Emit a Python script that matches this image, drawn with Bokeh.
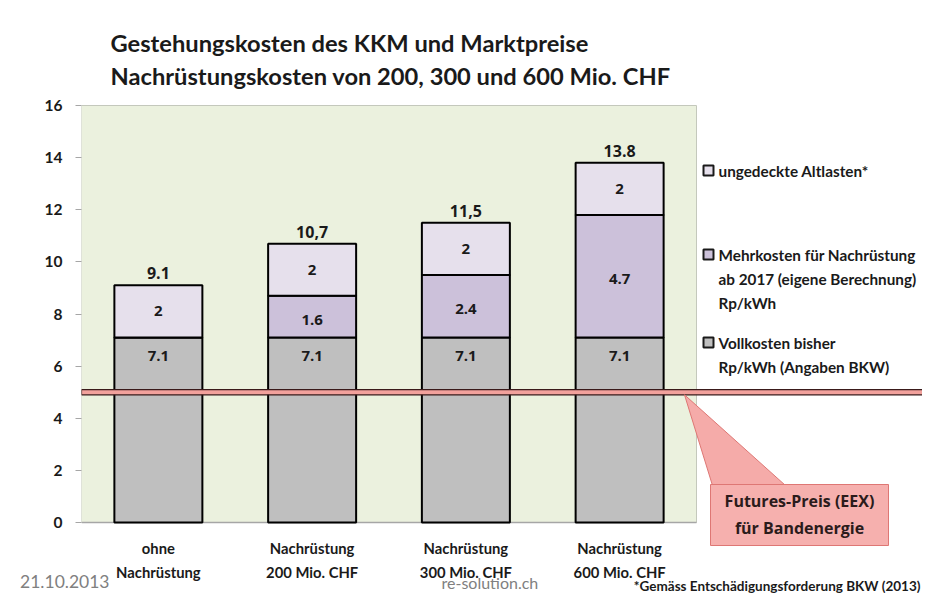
from bokeh.plotting import figure
from bokeh.models import Range1d, FixedTicker, Label, ColumnDataSource
from bokeh.core.properties import value
from bokeh.embed import file_html
from bokeh.resources import INLINE

# ---------------- data ----------------
categories = ["ohne\nNachrüstung", "Nachrüstung\n200 Mio. CHF",
              "Nachrüstung\n300 Mio. CHF", "Nachrüstung\n600 Mio. CHF"]
vollkosten = [7.1, 7.1, 7.1, 7.1]
mehrkosten = [0.0, 1.6, 2.4, 4.7]
altlasten = [2.0, 2.0, 2.0, 2.0]
total_labels = ["9.1", "10,7", "11,5", "13.8"]
futures_price = 5.0
y_ticks = [0, 2, 4, 6, 8, 10, 12, 14, 16]
legend_items = [
    ["ungedeckte Altlasten*"],
    ["Mehrkosten für Nachrüstung", "ab 2017 (eigene Berechnung)", "Rp/kWh"],
    ["Vollkosten bisher", "Rp/kWh (Angaben BKW)"],
]
title_lines = ["Gestehungskosten des KKM und Marktpreise",
               "Nachrüstungskosten von 200, 300 und 600 Mio. CHF"]
callout_lines = ["Futures-Preis (EEX)", "für Bandenergie"]
date_text = "21.10.2013"
source_text = "re-solution.ch"
footnote = "*Gemäss Entschädigungsforderung BKW (2013)"

# ---------------- colours ----------------
C_VOLL = "#BFBFBF"
C_MEHR = "#CCC1DA"
C_ALT = "#E6E0EC"
C_BG = "#EBF1DE"

# ---------------- layout helpers ----------------
W, H = 922, 593
LEFT = 81            # frame left edge (px)
Y0_PX, Y16_PX = 522, 105
PXX = 153.75         # px per category unit
PXY = (Y0_PX - Y16_PX) / 16.0

def dx(px):
    return (px - LEFT) / PXX

def dy(py):
    return (Y0_PX - py) / PXY

p = figure(width=W, height=H, output_backend="svg", toolbar_location=None,
           x_range=Range1d(0, dx(W)), y_range=Range1d(dy(H), dy(0)),
           x_axis_location=None, min_border_left=LEFT, min_border_right=0,
           min_border_top=0, min_border_bottom=0)
p.outline_line_color = None
p.grid.visible = False
p.background_fill_color = "white"
p.border_fill_color = "white"

ya = p.yaxis[0]
ya.ticker = FixedTicker(ticks=y_ticks)
ya.axis_line_color = None
ya.major_tick_line_color = "#A6A6A6"
ya.major_tick_out = 6
ya.major_tick_in = 0
ya.minor_tick_line_color = None
ya.major_label_text_font = "Lato"
ya.major_label_text_font_style = "bold"
ya.major_label_text_font_size = "15.5px"
ya.major_label_text_color = "#1a1a1a"
ya.major_label_standoff = 13
# the date in the lower-left corner, carried by the axis label
ya.axis_label = date_text + "\n\u00a0"
ya.axis_label_orientation = "horizontal"
ya.axis_label_align = "start"
ya.axis_label_standoff = -68
ya.axis_label_text_font = "Lato"
ya.axis_label_text_font_style = "normal"
ya.axis_label_text_font_size = "17.5px"
ya.axis_label_text_line_height = 1.1
ya.axis_label_text_color = "#808080"

n = len(categories)
xs = [i + 0.5 for i in range(n)]

# plot area background
p.quad(left=[0], right=[n], bottom=[0], top=[16], fill_color=C_BG,
       line_color="#C4C8BC", line_width=1)
p.segment(x0=[0], x1=[n], y0=[0], y1=[0], line_color="#A6A6A6", line_width=1.5)

# stacked bars
b1 = vollkosten
b2 = [a + b for a, b in zip(b1, mehrkosten)]
b3 = [a + b for a, b in zip(b2, altlasten)]
bw = 88 / PXX
src = ColumnDataSource(dict(x=xs, b1=b1, b2=b2, b3=b3, z=[0] * n))
p.vbar(x="x", width=bw, bottom="z", top="b1", source=src, fill_color=C_VOLL,
       line_color="black", line_width=2)
p.vbar(x="x", width=bw, bottom="b1", top="b2", source=src, fill_color=C_MEHR,
       line_color="black", line_width=2)
p.vbar(x="x", width=bw, bottom="b2", top="b3", source=src, fill_color=C_ALT,
       line_color="black", line_width=2)

font_os = value("Open Sans")
font_lato = value("Lato")

# segment labels
p.text(x=xs, y=b1, text=[f"{v:g}" for v in vollkosten], text_align="center",
       text_baseline="middle", y_offset=19, text_font=font_os, text_font_style="bold",
       text_font_size="15px", text_color="#1a1a1a")
mk_x = [x for x, v in zip(xs, mehrkosten) if v > 0]
mk_y = [a + v / 2 for a, v in zip(b1, mehrkosten) if v > 0]
mk_t = [f"{v:g}" for v in mehrkosten if v > 0]
p.text(x=mk_x, y=mk_y, text=mk_t, text_align="center", text_baseline="middle", y_offset=3,
       text_font=font_os, text_font_style="bold", text_font_size="15px", text_color="#1a1a1a")
p.text(x=xs, y=[a + v / 2 for a, v in zip(b2, altlasten)], text=[f"{v:g}" for v in altlasten],
       text_align="center", text_baseline="middle", text_font=font_os,
       text_font_style="bold", text_font_size="15px", text_color="#1a1a1a")
p.text(x=xs, y=b3, text=total_labels, text_align="center", text_baseline="middle",
       y_offset=-12, text_font=font_os, text_font_style="bold", text_font_size="16px",
       text_color="#1a1a1a")

# footer source text (drawn below category labels)
p.add_layout(Label(x=dx(441), y=dy(582), text=source_text, text_align="left",
                   text_baseline="middle", text_font="Lato", text_font_size="16px",
                   text_color="#808080", level="glyph"))

# category labels (two lines)
line1 = [c.split("\n")[0] for c in categories]
line2 = [c.split("\n")[1] for c in categories]
p.text(x=xs, y=[dy(547)] * n, text=line1, text_align="center", text_baseline="middle",
       text_font=font_lato, text_font_style="bold", text_font_size="14.8px", text_color="#1a1a1a")
p.text(x=xs, y=[dy(571)] * n, text=line2, text_align="center", text_baseline="middle",
       text_font=font_lato, text_font_style="bold", text_font_size="14.8px", text_color="#1a1a1a")

# futures price band
band = 2.6 / PXY
p.quad(left=[0], right=[dx(W) + 1], bottom=[futures_price - band], top=[futures_price + band],
       fill_color="#F2A19C", line_color="#3a1a1a", line_width=1.2)

# callout pointer and box
p.patch(x=[dx(684), dx(712), dx(785)], y=[futures_price - band, dy(485), dy(485)],
        fill_color="#F5ABA9", line_color="#DE7774", line_width=1)
p.quad(left=[dx(710)], right=[dx(888)], top=[dy(484)], bottom=[dy(545)],
       fill_color="#F6B0AE", line_color="#DE7774", line_width=1)
p.text(x=[dx(799)] * 2, y=[dy(500), dy(527)], text=callout_lines, text_align="center",
       text_baseline="middle", text_font=font_os, text_font_style="bold",
       text_font_size="16px", text_color="#2b1b1b")

# legend
leg_colors = [C_ALT, C_MEHR, C_VOLL]
leg_first = [dy(170), dy(254), dy(342)]
line_step = 24 / PXY
p.rect(x=[dx(708)] * 3, y=leg_first, width=10, height=10, width_units="screen",
       height_units="screen", fill_color=leg_colors, line_color="#1a1a1a", line_width=2)
lx, ly, lt = [], [], []
for y0, lines in zip(leg_first, legend_items):
    for k, t in enumerate(lines):
        lx.append(dx(718))
        ly.append(y0 - k * line_step)
        lt.append(t)
p.text(x=lx, y=ly, text=lt, text_align="left", text_baseline="middle", text_font=font_lato,
       text_font_style="bold", text_font_size="15.3px", text_color="#1a1a1a")

# titles and footer
for t, py in zip(title_lines, [42, 75]):
    p.add_layout(Label(x=dx(110), y=dy(py), text=t, text_align="left", text_baseline="middle",
                       text_font="Lato", text_font_style="bold", text_font_size="23.7px",
                       text_color="#1a1a1a"))
p.add_layout(Label(x=dx(920), y=dy(585), text=footnote, text_align="right",
                   text_baseline="middle", text_font="Lato", text_font_style="bold",
                   text_font_size="13.5px", text_color="#1a1a1a"))

open("out.html", "w").write(file_html(p, INLINE))
